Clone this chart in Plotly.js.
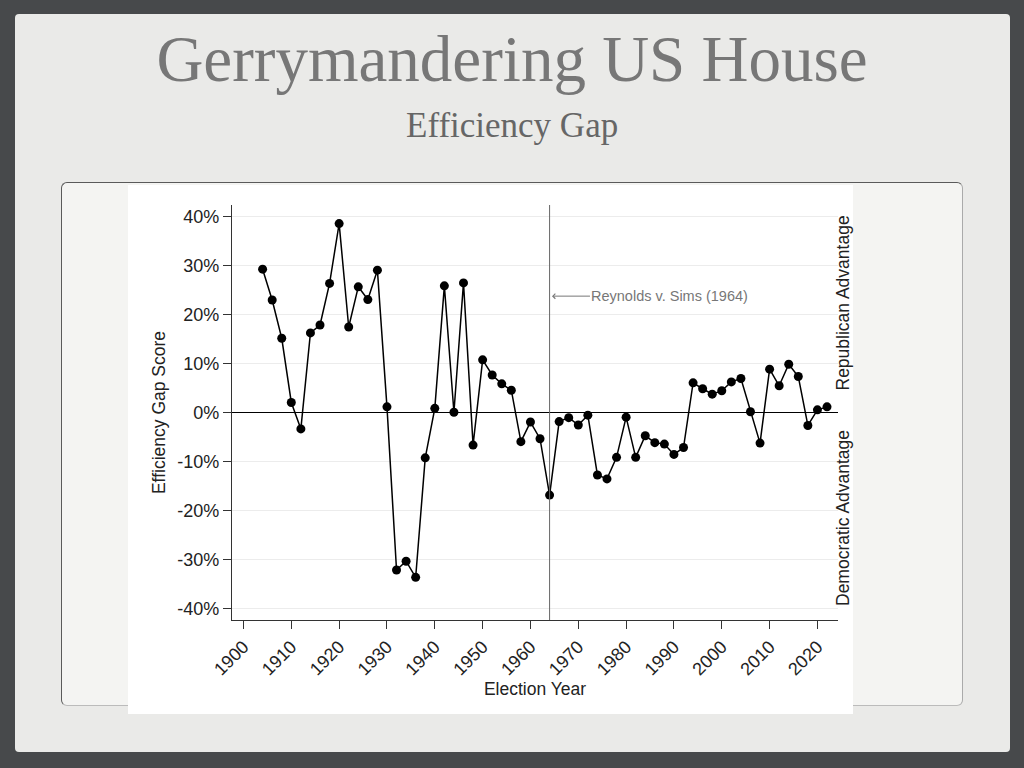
<!DOCTYPE html>
<html>
<head>
<meta charset="utf-8">
<script src="https://cdn.plot.ly/plotly-3.0.1.min.js"></script>
<style>
  html, body { margin:0; padding:0; width:1024px; height:768px; overflow:hidden; background:#47494b; }
  #slide { position:absolute; left:15px; top:14px; width:995px; height:738px; background:#eaeae8; border-radius:4px; }
  #panel { position:absolute; left:61px; top:182px; width:900px; height:522px; background:#f4f4f2; border-radius:6px;
           border:1.5px solid #5a5a5a; border-right-color:#aaa; border-bottom-color:#bbb; }
  #white { position:absolute; left:128px; top:185px; width:725px; height:529px; background:#ffffff; }
  #chart { position:absolute; left:0; top:0; width:1024px; height:768px; }
</style>
</head>
<body>
<div id="slide"></div>
<div id="panel"></div>
<div id="white"></div>
<div id="chart"></div>
<script>
const years = [1904,1906,1908,1910,1912,1914,1916,1918,1920,1922,1924,1926,1928,1930,
  1932,1934,1936,1938,1940,1942,1944,1946,1948,1950,1952,1954,1956,1958,1960,1962,
  1964,1966,1968,1970,1972,1974,1976,1978,1980,1982,1984,1986,1988,1990,1992,1994,
  1996,1998,2000,2002,2004,2006,2008,2010,2012,2014,2016,2018,2020,2022];
const efficiencyGap = [29.2,22.9,15.1,2.0,-3.4,16.2,17.8,26.3,38.5,17.4,25.6,23.0,29.0,1.1,
  -32.2,-30.4,-33.7,-9.3,0.8,25.8,0.0,26.4,-6.7,10.7,7.6,5.8,4.5,-6.0,-2.0,-5.4,
  -16.9,-1.9,-1.1,-2.6,-0.6,-12.8,-13.6,-9.2,-1.0,-9.2,-4.8,-6.2,-6.5,-8.6,-7.2,6.0,
  4.8,3.7,4.4,6.2,6.9,0.1,-6.3,8.8,5.4,9.8,7.3,-2.7,0.5,1.1];
const xTicks = [1900,1910,1920,1930,1940,1950,1960,1970,1980,1990,2000,2010,2020];
const yTicks = [-40,-30,-20,-10,0,10,20,30,40];
const yTickLabels = ["-40%","-30%","-20%","-10%","0%","10%","20%","30%","40%"];
const rulingYear = 1964;

const sans = "Liberation Sans, Arial, sans-serif";
const serif = "Liberation Serif, Times New Roman, serif";

const trace = {
  x: years, y: efficiencyGap, type: 'scatter', mode: 'lines+markers',
  line: {color: '#000', width: 1.5},
  marker: {color: '#000', size: 9},
  hoverinfo: 'skip'
};

const layout = {
  width: 1024, height: 768,
  margin: {l: 232, r: 186, t: 205, b: 148},
  paper_bgcolor: 'rgba(0,0,0,0)', plot_bgcolor: 'rgba(0,0,0,0)',
  showlegend: false,
  title: {text: 'Gerrymandering US House', font: {family: serif, size: 65, color: '#777777'},
          x: 0.5, xref: 'container', y: 1 - 58/768, yref: 'container', xanchor: 'center', yanchor: 'middle'},
  xaxis: {
    range: [1897.6, 2024.3], tickvals: xTicks, ticktext: xTicks.map(String), tickangle: -45,
    ticks: 'outside', ticklen: 8, tickcolor: '#333', tickwidth: 1,
    showline: true, linecolor: '#333', linewidth: 1.2, showgrid: false, zeroline: false,
    tickfont: {family: sans, size: 18, color: '#222'},
    title: {text: 'Election Year', font: {family: sans, size: 17.5, color: '#222'}, standoff: 0}
  },
  yaxis: {
    range: [-42.4, 42.3], tickvals: yTicks, ticktext: yTickLabels,
    ticks: 'outside', ticklen: 8, tickcolor: '#333', tickwidth: 1,
    showline: true, linecolor: '#333', linewidth: 1.2,
    showgrid: true, gridcolor: '#ececec', gridwidth: 1,
    zeroline: true, zerolinecolor: '#000', zerolinewidth: 1.5,
    tickfont: {family: sans, size: 18, color: '#222'},
    title: {text: 'Efficiency Gap Score', font: {family: sans, size: 17.5, color: '#222'}, standoff: 7}
  },
  shapes: [
    {type: 'line', xref: 'x', yref: 'paper', x0: rulingYear, x1: rulingYear, y0: 0, y1: 1,
     line: {color: '#666', width: 1}}
  ],
  annotations: [
    {xref: 'paper', yref: 'paper', x: (512 - 232) / 605.5, y: (620 - 126) / 415,
     text: 'Efficiency Gap', showarrow: false, xanchor: 'center', yanchor: 'middle',
     font: {family: serif, size: 35, color: '#666666'}},
    {xref: 'x', yref: 'y', x: 1964.5, y: 23.7, ax: 118, ay: 0,
     text: 'Reynolds v. Sims (1964)', showarrow: true, arrowhead: 4, arrowsize: 1, arrowwidth: 1,
     arrowcolor: '#777', font: {family: sans, size: 14.5, color: '#777'}},
    {xref: 'paper', yref: 'paper', x: (842 - 232) / 605.5, y: (620 - 303) / 415,
     text: 'Republican Advantage', textangle: -90, showarrow: false, xanchor: 'center', yanchor: 'middle',
     font: {family: sans, size: 17.5, color: '#222'}},
    {xref: 'paper', yref: 'paper', x: (842 - 232) / 605.5, y: (620 - 518.5) / 415,
     text: 'Democratic Advantage', textangle: -90, showarrow: false, xanchor: 'center', yanchor: 'middle',
     font: {family: sans, size: 17.5, color: '#222'}}
  ]
};

Plotly.newPlot('chart', [trace], layout, {staticPlot: true, displayModeBar: false});
</script>
</body>
</html>
